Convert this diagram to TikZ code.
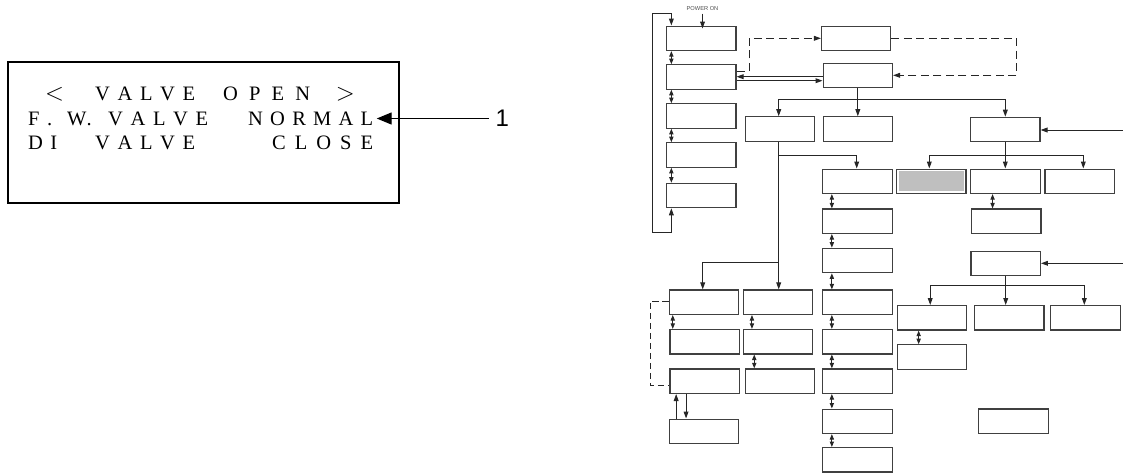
\documentclass[tikz,border=0pt]{standalone}
\usepackage{fontspec}
\setmainfont{Liberation Serif}
\newfontfamily\arialf{Liberation Sans}
\usetikzlibrary{arrows.meta,calc}
\newcommand\spr[2]{\makebox[#1][s]{#2}}
\begin{document}
\begin{tikzpicture}[x=1pt,y=-1pt,
  bx/.style={draw=black!75, line width=1.2pt, minimum width=69.3pt, minimum height=24.4pt, inner sep=0pt, fill=white},
  ln/.style={draw=black!85, line width=1pt},
  arr/.style={ln, -{Triangle[length=7pt,width=4.8pt]}},
  darr/.style={ln, {Triangle[length=5.5pt,width=4.2pt]}-{Triangle[length=5.5pt,width=4.2pt]}},
  dsh/.style={ln, dash pattern=on 8pt off 4.5pt},
  lcd/.style={inner sep=0pt, anchor=base west, font=\fontsize{20.5}{21}\selectfont},
  lcdsym/.style={inner sep=0pt, anchor=base west, font=\fontsize{23.5}{24}\selectfont},
]
\useasboundingbox (0,0) rectangle (1123,472);

% ---------- left panel ----------
\node[draw, line width=2.2pt, minimum width=390.7pt, minimum height=141pt, inner sep=0pt] (lcdbox) at (203.65,132.2) {};
\node[lcdsym] (l1a) at (45,100.5) {$<$};
\node[lcd] (l1b) at (95,100) {\spr{100pt}{V\hfil A\hfil L\hfil V\hfil E}};
\node[lcd] (l1c) at (223,100) {\spr{87pt}{O\hfil P\hfil E\hfil N}};
\node[lcdsym, anchor=base east] (l1d) at (355,100.5) {$>$};
\node[lcd] (l2a) at (28,125) {\spr{24pt}{F\hfil .}};
\node[lcd] (l2b) at (67,125) {\spr{22pt}{W\hfil .}};
\node[lcd] (l2c) at (108,125) {\spr{100pt}{V\hfil A\hfil L\hfil V\hfil E}};
\node[lcd] (l2d) at (248,125) {\spr{125pt}{N\hfil O\hfil R\hfil M\hfil A\hfil L}};
\node[lcd] (l3a) at (28,149) {\spr{29pt}{D\hfil I}};
\node[lcd] (l3b) at (95,149) {\spr{100pt}{V\hfil A\hfil L\hfil V\hfil E}};
\node[lcd] (l3c) at (272,149) {\spr{101pt}{C\hfil L\hfil O\hfil S\hfil E}};
\coordinate (tip1) at (376.7,118.5);
\node[font=\arialf\fontsize{24}{24}\selectfont, inner sep=0pt, anchor=west] (n1) at (495.5,118.5) {1};
\draw[line width=1.3pt, -{Triangle[length=15pt,width=12pt]}] ([xshift=-6.5pt]n1.west) -- (tip1);

% ---------- right diagram: boxes ----------
\node[bx] (P1) at (701.3,38.3) {};
\node[bx] (P2) at (701.3,77) {};
\node[bx] (P3) at (701.3,116) {};
\node[bx] (P4) at (701.3,155) {};
\node[bx] (P5) at (701.3,195.5) {};
\node[bx] (A) at (856.2,38.3) {};
\node[bx] (B) at (857.8,75.3) {};
\node[bx] (C) at (780,129) {};
\node[bx] (D) at (858.2,129) {};
\node[bx] (E) at (1005.3,129.5) {};
\node[bx] (F1) at (857.5,181.3) {};
\node[bx] (F2) at (857.5,221.2) {};
\node[bx] (F3) at (857.5,260.5) {};
\node[bx] (F4) at (857.5,302.2) {};
\node[bx] (F5) at (857.5,341.7) {};
\node[bx] (F6) at (857.5,381.2) {};
\node[bx] (F7) at (857.5,421.3) {};
\node[bx] (F8) at (857.5,459.8) {};
\node[bx] (G1) at (704,302.2) {};
\node[bx] (G2) at (704.6,341.7) {};
\node[bx] (G3) at (704.6,381.2) {};
\node[bx] (G4) at (704,431.3) {};
\node[bx] (H1) at (778.2,302.2) {};
\node[bx] (H2) at (778.2,341.7) {};
\node[bx] (H3) at (779.8,381.2) {};
\node[bx] (I1) at (931.3,181.3) {};
\fill[gray!50, draw=white, line width=0.8pt] ([shift={(2.3pt,-2.3pt)}]I1.north west) rectangle ([shift={(-2.3pt,2.3pt)}]I1.south east);
\node[bx] (I2) at (1005.5,181.3) {};
\node[bx] (I3) at (1079.7,181.3) {};
\node[bx] (I2b) at (1006.3,221.2) {};
\node[bx] (J1) at (1005.7,263.3) {};
\node[bx] (K1) at (932.2,317.8) {};
\node[bx] (K2) at (1009.3,317.8) {};
\node[bx] (K3) at (1085.5,317.8) {};
\node[bx] (K1b) at (932,357) {};
\node[bx] (L) at (1013.5,421.2) {};

% ---------- power on and loop ----------
\node[font=\arialf\fontsize{5.7}{6}\selectfont, text=black!70, inner sep=0pt] (pwr) at (702.5,8.3) {POWER ON};
\draw[arr] ([yshift=-3pt]pwr.south) -- ([yshift=-3pt]pwr.south |- P1.north);
\coordinate (lpT) at (652.7,13.3);
\coordinate (lpB) at (652.7,232.3);
\draw[ln, {Triangle[length=7pt,width=4.8pt]}-{Triangle[length=7pt,width=4.8pt]}]
  ([xshift=5.3pt]P5.south west) |- (lpB) -- (lpT) -| ([xshift=5.3pt]P1.north west);
\foreach \a/\b in {P1/P2,P2/P3,P3/P4,P4/P5}
  \draw[darr] ([xshift=5.3pt]\a.south west) -- ([xshift=5.3pt]\a.south west |- \b.north);

% ---------- dashed loop P2 -> A -> B ----------
\coordinate (dR) at (1016.7,38.3);
\draw[dsh, -{Triangle[length=7pt,width=4.8pt]}] (P2.east |- 0,71) -- (749,71) |- (A.west);
\draw[dsh, -{Triangle[length=7pt,width=4.8pt]}] (A.east) -- (dR) |- (B.east);

% ---------- P2 <-> B ----------
\draw[arr] (B.west |- 0,76.7) -- (P2.east |- 0,76.7);
\draw[arr] (P2.east |- 0,80.7) -- (B.west |- 0,80.7);

% ---------- B fan-out ----------
\coordinate (busB) at (B.south |- 0,99.3);
\draw[arr] (B.south) -- (B.south |- D.north);
\draw[arr] (busB) -| ([xshift=-1.3pt]C.north);
\draw[arr] (busB) -| (E.north);

% ---------- C branches ----------
\draw[arr] ([xshift=-1.3pt]C.south) |- ([xshift=-0.8pt]F1.north |- 0,155) -- ([xshift=-0.8pt]F1.north);
\draw[arr] ([xshift=-1.3pt]C.south) -- ([xshift=-1.3pt]C.south |- H1.north);
\coordinate (busC) at (778.7,262.7);
\draw[arr] (busC) -| ([xshift=-1.3pt]G1.north);

\foreach \a/\b in {F1/F2,F2/F3,F3/F4,F4/F5,F5/F6,F6/F7,F7/F8}
  \draw[darr] ([xshift=9.6pt]\a.south west) -- ([xshift=9.6pt]\a.south west |- \b.north);

\draw[darr] ([xshift=4pt]G1.south west) -- ([xshift=4pt]G1.south west |- G2.north);
\draw[darr] ([xshift=9pt]H1.south west) -- ([xshift=9pt]H1.south west |- H2.north);
\draw[darr] ([xshift=11.3pt]H2.south west) -- ([xshift=11.3pt]H2.south west |- H3.north);
\draw[arr] ([xshift=7.4pt]G4.north west) -- ([xshift=7.4pt]G4.north west |- G3.south);
\draw[arr] ([xshift=16.7pt]G3.south west) -- ([xshift=16.7pt]G3.south west |- G4.north);
\coordinate (brk) at (650.7,301);
\draw[ln, dash pattern=on 6.5pt off 3.5pt] (G1.west |- brk) -- (brk) |- (G3.west |- 0,385.7);

% ---------- E branch ----------
\coordinate (inE) at (1123,130);
\draw[arr] (inE) -- (E.east |- inE);
\coordinate (busE) at (E.south |- 0,155);
\draw[arr] (E.south) -- (E.south |- I2.north);
\draw[arr] (busE) -| ([xshift=-2pt]I1.north);
\draw[arr] (busE) -| ([xshift=3.6pt]I3.north);
\draw[darr] ([xshift=22.3pt]I2.south west) -- ([xshift=22.3pt]I2.south west |- I2b.north);

% ---------- J branch ----------
\coordinate (inJ) at (1123,263.3);
\draw[arr] (inJ) -- (J1.east);
\coordinate (busJ) at (J1.south |- 0,285.7);
\draw[arr] (J1.south) -- (J1.south |- K2.north);
\draw[arr] (busJ) -| ([xshift=-2pt]K1.north);
\draw[arr] (busJ) -| ([xshift=-1.2pt]K3.north);
\draw[darr] ([xshift=21.7pt]K1.south west) -- ([xshift=21.7pt]K1.south west |- K1b.north);
\end{tikzpicture}
\end{document}
